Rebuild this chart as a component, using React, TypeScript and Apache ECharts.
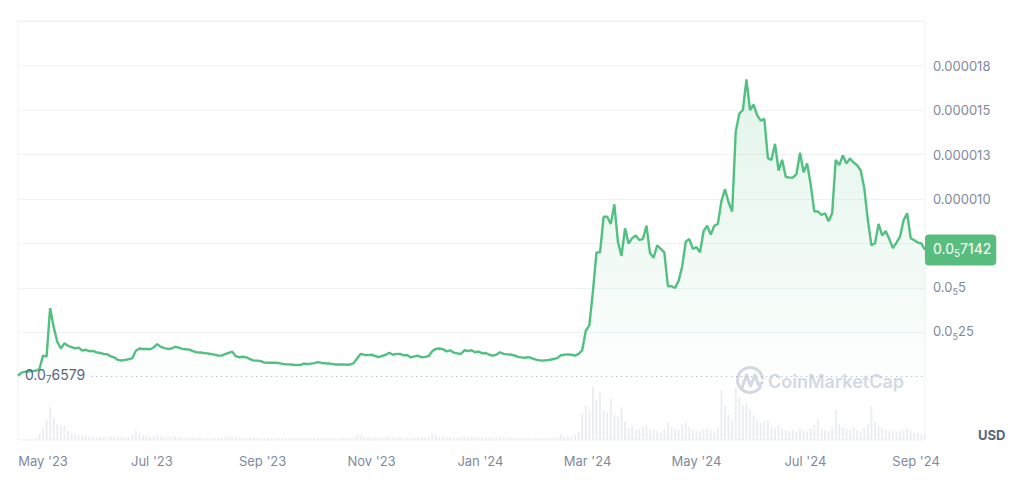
import React, { useEffect, useRef } from "react";
import * as echarts from "echarts";

// ---- data ----
const seriesStart = "2023-04-17"; // first sample
const stepDays = 2; // one sample every two days
// price in millionths of a USD (µUSD)
const prices = [
  0.07, 0.25, 0.3, 0.32, 0.33, 0.35, 0.45, 1.2, 1.14, 3.87,
  2.8, 1.98, 1.6, 1.89, 1.75, 1.68, 1.61, 1.65, 1.48, 1.53,
  1.45, 1.47, 1.38, 1.35, 1.3, 1.28, 1.16, 1.1, 0.96, 0.93,
  0.96, 1.0, 1.05, 1.48, 1.6, 1.57, 1.58, 1.56, 1.66, 1.85,
  1.69, 1.62, 1.58, 1.6, 1.7, 1.65, 1.58, 1.56, 1.54, 1.45,
  1.39, 1.38, 1.35, 1.33, 1.29, 1.26, 1.21, 1.2, 1.28, 1.36,
  1.42, 1.17, 1.11, 1.14, 1.1, 1.0, 0.92, 0.92, 0.89, 0.81,
  0.8, 0.8, 0.8, 0.79, 0.74, 0.72, 0.71, 0.69, 0.67, 0.67,
  0.75, 0.73, 0.75, 0.78, 0.84, 0.79, 0.77, 0.76, 0.74, 0.7,
  0.7, 0.71, 0.69, 0.7, 0.78, 1.05, 1.3, 1.24, 1.23, 1.25,
  1.18, 1.12, 1.19, 1.25, 1.36, 1.25, 1.3, 1.3, 1.22, 1.23,
  1.1, 1.16, 1.2, 1.11, 1.13, 1.18, 1.45, 1.58, 1.6, 1.56,
  1.44, 1.5, 1.37, 1.33, 1.29, 1.5, 1.46, 1.5, 1.39, 1.43,
  1.33, 1.35, 1.25, 1.2, 1.26, 1.39, 1.3, 1.27, 1.26, 1.21,
  1.13, 1.1, 1.08, 1.12, 1.05, 0.98, 0.94, 0.92, 0.94, 0.97,
  1.01, 1.06, 1.22, 1.25, 1.27, 1.25, 1.2, 1.3, 1.5, 2.6,
  2.9, 4.8, 7.0, 7.0, 9.0, 9.0, 8.6, 9.7, 7.6, 6.8,
  8.35, 7.5, 7.8, 7.95, 7.7, 7.75, 8.5, 6.95, 6.7, 7.4,
  7.2, 7.0, 5.1, 5.1, 5.0, 5.4, 6.2, 7.6, 7.75, 7.2,
  7.3, 7.0, 8.2, 8.5, 8.0, 8.5, 8.6, 9.9, 10.55, 9.8,
  9.3, 13.78, 14.8, 15.0, 16.72, 15.0, 15.3, 14.7, 14.4, 14.5,
  12.3, 12.2, 13.1, 11.6, 12.2, 11.25, 11.2, 11.2, 11.4, 12.6,
  11.5, 12.0, 10.8, 9.3, 9.3, 9.1, 9.2, 8.75, 9.2, 12.2,
  11.9, 12.45, 12.0, 12.28, 12.05, 11.9, 11.6, 10.6, 8.8, 7.4,
  7.51, 8.6, 7.95, 8.2, 7.75, 7.24, 7.55, 7.88, 8.8, 9.2,
  7.8, 7.68, 7.55, 7.5, 7.142,
];
// traded volume, billions of USD
const volumes = [
  0.03, 0.03, 0.03, 0.04, 0.05, 0.1, 0.3, 0.6, 1.0, 1.65,
  1.1, 0.8, 0.7, 0.75, 0.45, 0.35, 0.3, 0.25, 0.25, 0.2,
  0.2, 0.18, 0.15, 0.15, 0.15, 0.15, 0.18, 0.15, 0.18, 0.15,
  0.15, 0.15, 0.25, 0.5, 0.35, 0.25, 0.2, 0.2, 0.2, 0.25,
  0.2, 0.15, 0.15, 0.15, 0.18, 0.15, 0.13, 0.13, 0.12, 0.12,
  0.12, 0.12, 0.1, 0.1, 0.1, 0.1, 0.1, 0.12, 0.15, 0.18,
  0.2, 0.15, 0.12, 0.1, 0.1, 0.12, 0.12, 0.1, 0.1, 0.1,
  0.1, 0.09, 0.09, 0.1, 0.09, 0.08, 0.09, 0.08, 0.08, 0.09,
  0.12, 0.1, 0.09, 0.1, 0.12, 0.1, 0.09, 0.09, 0.08, 0.08,
  0.08, 0.09, 0.08, 0.09, 0.12, 0.25, 0.22, 0.15, 0.14, 0.15,
  0.13, 0.12, 0.14, 0.15, 0.2, 0.15, 0.14, 0.13, 0.12, 0.12,
  0.12, 0.13, 0.14, 0.12, 0.12, 0.15, 0.3, 0.25, 0.2, 0.17,
  0.15, 0.16, 0.13, 0.12, 0.12, 0.2, 0.16, 0.15, 0.13, 0.14,
  0.13, 0.13, 0.12, 0.12, 0.12, 0.15, 0.13, 0.12, 0.12, 0.11,
  0.11, 0.1, 0.1, 0.11, 0.1, 0.1, 0.09, 0.09, 0.1, 0.1,
  0.12, 0.15, 0.3, 0.2, 0.2, 0.2, 0.25, 0.4, 1.35, 1.75,
  1.5, 2.65, 2.0, 2.35, 1.5, 1.4, 2.1, 1.25, 1.15, 1.65,
  0.9, 0.6, 0.7, 0.5, 0.55, 0.65, 0.75, 0.55, 0.5, 0.45,
  0.4, 0.6, 0.9, 0.7, 0.55, 0.5, 0.75, 0.9, 0.65, 0.5,
  0.45, 0.45, 0.55, 0.6, 0.5, 0.45, 0.6, 2.5, 1.75, 1.25,
  1.0, 2.6, 2.15, 1.75, 1.85, 1.5, 1.25, 1.0, 0.85, 0.9,
  1.0, 0.7, 0.6, 0.75, 0.6, 0.5, 0.45, 0.5, 0.4, 0.6,
  0.5, 0.45, 0.6, 0.75, 1.0, 0.55, 0.5, 0.45, 0.6, 1.5,
  0.8, 0.65, 0.55, 0.5, 0.6, 0.5, 0.45, 0.6, 0.75, 1.7,
  0.9, 0.7, 0.6, 0.5, 0.45, 0.5, 0.4, 0.45, 0.5, 0.6,
  0.45, 0.4, 0.35, 0.3, 0.25,
];
const xTickDates = [
  "2023-05-01", "2023-07-01", "2023-09-01", "2023-11-01", "2024-01-01",
  "2024-03-01", "2024-05-01", "2024-07-01", "2024-09-01",
];
const xTickLabels = [
  "May '23", "Jul '23", "Sep '23", "Nov '23", "Jan '24",
  "Mar '24", "May '24", "Jul '24", "Sep '24",
];
const yTickValues = [2.5, 5, 7.5, 10, 12.5, 15, 17.5];
const yTickLabels = [
  "{a|0.0}{s|5}{a|25}", "{a|0.0}{s|5}{a|5}", "", "0.000010", "0.000013", "0.000015", "0.000018",
];
const openPrice = 0.06579;
const openLabel = "{a|0.0}{s|7}{a|6579}";
const refLineFrom = "2023-05-28";
const lastPrice = 7.142;
const lastLabel = "{a|0.0}{s|5}{a|7142}";

// ---- helpers ----
const toTs = (s: string) => {
  const [y, m, d] = s.split("-").map(Number);
  return new Date(y, m - 1, d).getTime();
};
const startParts = seriesStart.split("-").map(Number);
const dateAt = (i: number) =>
  new Date(startParts[0], startParts[1] - 1, startParts[2] + i * stepDays).getTime();

const FONT = "Inter";
const GREY = "#808a9d";
const GREEN = "#52c081";

export default function App() {
  const ref = useRef<HTMLDivElement>(null);
  useEffect(() => {
    if (!ref.current) return;
    const chart = echarts.init(ref.current, undefined, { renderer: "svg" });
    const priceData = prices.map((v, i) => [dateAt(i), v]);
    const volData = volumes.map((v, i) => [dateAt(i), v]);
    const minTs = dateAt(0);
    const maxTs = dateAt(prices.length - 1);
    const tickTs = xTickDates.map(toTs);

    const subRich = (color: string, size: number, lh: number) => ({
      a: { fontFamily: FONT, fontSize: size, color, lineHeight: lh, padding: [0, 0, 4, 0], verticalAlign: "top" },
      s: { fontFamily: FONT, fontSize: size - 4, color, lineHeight: size - 3, verticalAlign: "bottom" },
    });

    chart.setOption({
      animation: false,
      grid: [
        { left: 18, right: 99, top: 21, bottom: 115, show: false },
        { left: 18, right: 99, top: 21, bottom: 52, show: true, borderColor: "#eff2f5", borderWidth: 1 },
      ],
      xAxis: [
        {
          type: "value", gridIndex: 0, min: minTs, max: maxTs,
          axisLine: { show: false }, axisTick: { show: false }, axisLabel: { show: false }, splitLine: { show: false },
        },
        {
          type: "value", gridIndex: 1, min: minTs, max: maxTs,
          axisLine: { show: false }, axisTick: { show: false }, splitLine: { show: false },
          axisLabel: {
            customValues: tickTs,
            margin: 14,
            fontFamily: FONT, fontSize: 13, color: GREY,
            showMinLabel: true, showMaxLabel: true, hideOverlap: false,
            formatter: (v: number) => {
              const i = tickTs.indexOf(+v);
              return i >= 0 ? xTickLabels[i] : "";
            },
          },
        },
      ],
      yAxis: [
        {
          type: "value", gridIndex: 0, position: "right", min: 0, max: 20, interval: 2.5,
          axisLine: { show: false }, axisTick: { show: false },
          splitLine: {
            show: true,
            lineStyle: {
              color: ["rgba(0,0,0,0)", "#eff2f5", "#eff2f5", "#eff2f5", "#eff2f5", "#eff2f5", "#eff2f5", "#eff2f5", "#eff2f5"],
              width: 1,
            },
          },
          axisLabel: {
            margin: 8, fontFamily: FONT, fontSize: 13, color: GREY,
            rich: subRich(GREY, 13, 16),
            formatter: (v: number) => {
              const i = yTickValues.indexOf(v);
              return i >= 0 ? yTickLabels[i] : "";
            },
          },
        },
        {
          type: "value", gridIndex: 1, min: 0, max: 20.95, show: false, splitLine: { show: false },
        },
      ],
      series: [
        {
          type: "bar", xAxisIndex: 1, yAxisIndex: 1, data: volData, barWidth: 2,
          itemStyle: { color: "#eceef3" }, silent: true, z: 1,
        },
        {
          type: "line", xAxisIndex: 0, yAxisIndex: 0, data: priceData, showSymbol: false, z: 3,
          lineStyle: { color: GREEN, width: 2.4 },
          itemStyle: { color: GREEN },
          areaStyle: {
            color: new echarts.graphic.LinearGradient(0, 0, 0, 1, [
              { offset: 0, color: "rgba(82,192,129,0.24)" },
              { offset: 1, color: "rgba(82,192,129,0.02)" },
            ]),
          },
          markLine: {
            silent: true, symbol: "none", animation: false,
            data: [
              [
                {
                  coord: [toTs(refLineFrom), openPrice],
                  lineStyle: { color: "#a6b0c3", type: [1, 4], width: 1 },
                  label: {
                    show: true, position: "start", distance: 6,
                    formatter: openLabel, rich: subRich("#58667e", 14, 17),
                  },
                },
                { coord: [maxTs, openPrice] },
              ],
              {
                yAxis: lastPrice,
                lineStyle: { color: "rgba(0,0,0,0)", width: 0 },
                label: {
                  show: true, position: "end", distance: 0,
                  formatter: lastLabel,
                  backgroundColor: "#5abd80", borderRadius: 4,
                  padding: [7, 5, 7, 8],
                  rich: subRich("#ffffff", 14, 17),
                },
              },
            ],
          },
        },
      ],
      graphic: [
        {
          type: "text", x: 978, y: 435, z: 10,
          style: { text: "USD", fontFamily: FONT, fontSize: 13, fontWeight: "bold", fill: "#58667e", textVerticalAlign: "middle" },
        },
        {
          type: "arc", z: 0,
          shape: { cx: 750, cy: 380, r: 12.5, startAngle: 0.45, endAngle: Math.PI * 2 - 0.05, clockwise: true },
          style: { stroke: "#d3d9e4", lineWidth: 3, fill: "none" },
        },
        {
          type: "polyline", z: 0,
          shape: { points: [[742, 388], [746.5, 375], [750.5, 386], [755, 375], [758.5, 385], [763, 382]] },
          style: { stroke: "#d3d9e4", lineWidth: 3, lineJoin: "round", fill: "none" },
        },
        {
          type: "text", x: 768, y: 381, z: 0,
          style: { text: "CoinMarketCap", fontFamily: FONT, fontSize: 18, fontWeight: 600, fill: "#d3d9e4", textVerticalAlign: "middle" },
        },
      ],
    });
    return () => chart.dispose();
  }, []);
  return <div ref={ref} style={{ position: "fixed", left: 0, top: 0, width: 1024, height: 492, background: "#fff" }} />;
}
